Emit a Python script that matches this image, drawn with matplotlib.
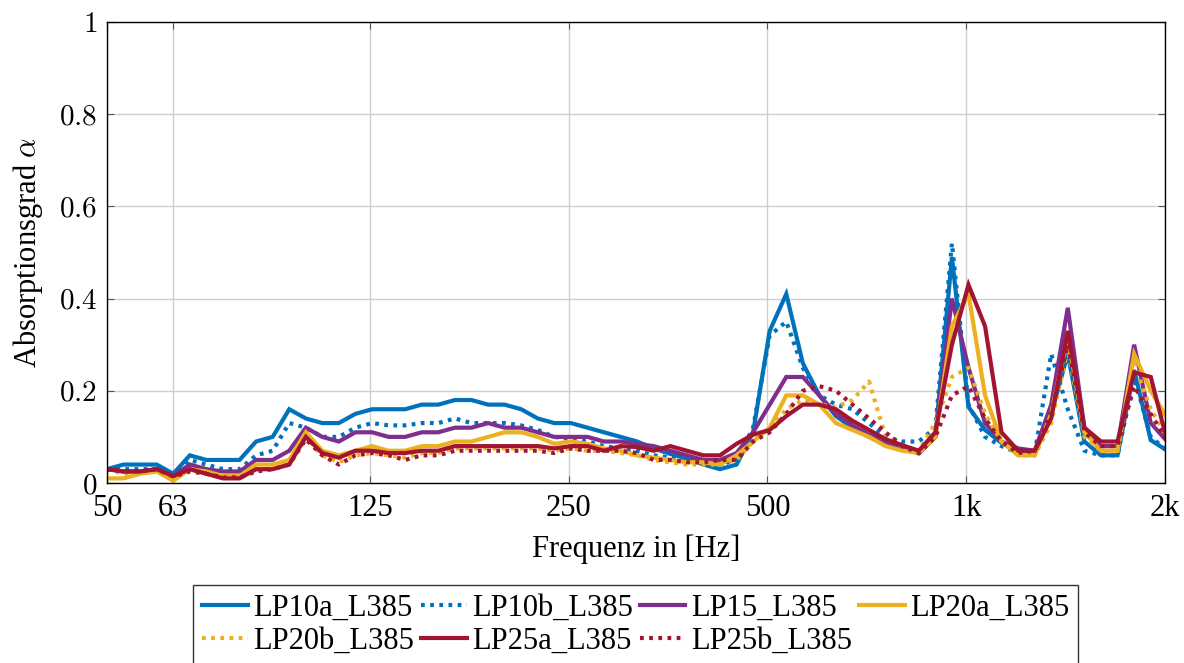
import matplotlib
matplotlib.use("Agg")
import matplotlib.pyplot as plt
from matplotlib.ticker import FixedLocator, NullLocator

# 1/12-octave frequencies (Hz)
freq = [50.0, 52.97, 56.12, 59.46, 63.0, 66.74, 70.71, 74.92, 79.37, 84.09, 89.09, 94.39,
        100.0, 105.9, 112.2, 118.9, 126.0, 133.5, 141.4, 149.8, 158.7, 168.2, 178.2, 188.8,
        200.0, 211.9, 224.5, 237.8, 252.0, 267.0, 282.8, 299.7, 317.5, 336.4, 356.4, 377.6,
        400.0, 423.8, 449.0, 475.7, 504.0, 534.0, 565.7, 599.3, 635.0, 672.7, 712.7, 755.1,
        800.0, 847.6, 898.0, 951.4, 1008, 1068, 1131, 1199, 1270, 1345, 1425, 1510,
        1600, 1695, 1796, 1903, 2016]

lp10a = [0.03, 0.04, 0.04, 0.04, 0.02, 0.06, 0.05, 0.05, 0.05, 0.09, 0.10, 0.16, 0.14, 0.13, 0.13, 0.15, 0.16, 0.16,
         0.16, 0.17, 0.17, 0.18, 0.18, 0.17, 0.17, 0.16, 0.14, 0.13, 0.13, 0.12, 0.11, 0.10, 0.09, 0.075, 0.063, 0.053, 0.04,
         0.03, 0.04, 0.11, 0.33, 0.41, 0.26, 0.19, 0.145, 0.12, 0.10, 0.085, 0.075, 0.07, 0.10, 0.49, 0.165, 0.115, 0.087,
         0.07, 0.07, 0.15, 0.28, 0.09, 0.06, 0.06, 0.245, 0.093, 0.07]
lp10b = [0.03, 0.03, 0.03, 0.03, 0.02, 0.05, 0.04, 0.03, 0.03, 0.06, 0.07, 0.13, 0.12, 0.10, 0.10, 0.12, 0.13, 0.125,
         0.125, 0.13, 0.13, 0.14, 0.13, 0.13, 0.13, 0.125, 0.115, 0.10, 0.095, 0.09, 0.08, 0.075, 0.07, 0.06, 0.055, 0.05, 0.045,
         0.04, 0.05, 0.12, 0.32, 0.35, 0.25, 0.19, 0.17, 0.16, 0.13, 0.10, 0.09, 0.09, 0.12, 0.52, 0.17, 0.10, 0.08,
         0.065, 0.065, 0.28, 0.16, 0.07, 0.06, 0.06, 0.23, 0.10, 0.07]
lp15 = [0.03, 0.025, 0.025, 0.03, 0.015, 0.04, 0.03, 0.025, 0.025, 0.05, 0.05, 0.07, 0.12, 0.10, 0.09, 0.11, 0.11, 0.10,
        0.10, 0.11, 0.11, 0.12, 0.12, 0.13, 0.12, 0.12, 0.11, 0.10, 0.10, 0.10, 0.09, 0.09, 0.085, 0.08, 0.07, 0.06, 0.05,
        0.05, 0.065, 0.11, 0.17, 0.23, 0.23, 0.19, 0.15, 0.125, 0.105, 0.09, 0.078, 0.064, 0.10, 0.40, 0.25, 0.13, 0.09,
        0.075, 0.07, 0.17, 0.38, 0.12, 0.08, 0.08, 0.30, 0.13, 0.09]
lp20a = [0.01, 0.01, 0.02, 0.025, 0.005, 0.03, 0.025, 0.015, 0.015, 0.04, 0.04, 0.05, 0.11, 0.07, 0.06, 0.07, 0.08, 0.07,
         0.07, 0.08, 0.08, 0.09, 0.09, 0.10, 0.11, 0.11, 0.10, 0.085, 0.09, 0.085, 0.075, 0.07, 0.06, 0.055, 0.05, 0.045, 0.045,
         0.04, 0.06, 0.09, 0.12, 0.19, 0.19, 0.17, 0.13, 0.115, 0.10, 0.08, 0.07, 0.065, 0.10, 0.34, 0.41, 0.19, 0.09,
         0.06, 0.06, 0.15, 0.32, 0.11, 0.07, 0.07, 0.28, 0.20, 0.14]
lp20b = [0.03, 0.02, 0.02, 0.03, 0.01, 0.03, 0.02, 0.015, 0.015, 0.03, 0.03, 0.045, 0.10, 0.06, 0.045, 0.06, 0.065, 0.06,
         0.055, 0.065, 0.065, 0.075, 0.075, 0.075, 0.075, 0.075, 0.075, 0.07, 0.075, 0.07, 0.07, 0.065, 0.06, 0.05, 0.045, 0.04, 0.04,
         0.04, 0.05, 0.09, 0.12, 0.16, 0.18, 0.17, 0.165, 0.18, 0.22, 0.10, 0.08, 0.07, 0.13, 0.23, 0.25, 0.15, 0.09,
         0.06, 0.06, 0.13, 0.29, 0.10, 0.07, 0.07, 0.26, 0.16, 0.10]
lp25a = [0.03, 0.025, 0.025, 0.03, 0.015, 0.03, 0.02, 0.01, 0.01, 0.03, 0.03, 0.04, 0.10, 0.065, 0.055, 0.07, 0.07, 0.065,
         0.065, 0.07, 0.07, 0.08, 0.08, 0.08, 0.08, 0.08, 0.08, 0.075, 0.08, 0.08, 0.07, 0.08, 0.078, 0.07, 0.08, 0.07, 0.06,
         0.06, 0.085, 0.105, 0.115, 0.145, 0.17, 0.17, 0.16, 0.135, 0.115, 0.095, 0.082, 0.07, 0.11, 0.30, 0.43, 0.34, 0.11,
         0.07, 0.07, 0.14, 0.33, 0.12, 0.09, 0.09, 0.24, 0.23, 0.09]
lp25b = [0.03, 0.025, 0.025, 0.03, 0.014, 0.025, 0.02, 0.012, 0.012, 0.025, 0.03, 0.04, 0.095, 0.06, 0.04, 0.06, 0.065, 0.06,
         0.05, 0.06, 0.06, 0.07, 0.07, 0.07, 0.07, 0.07, 0.07, 0.065, 0.075, 0.07, 0.07, 0.07, 0.065, 0.05, 0.05, 0.045, 0.045,
         0.05, 0.05, 0.09, 0.11, 0.15, 0.20, 0.21, 0.20, 0.17, 0.14, 0.11, 0.08, 0.065, 0.10, 0.19, 0.21, 0.14, 0.09,
         0.065, 0.07, 0.15, 0.30, 0.11, 0.08, 0.08, 0.21, 0.15, 0.09]

labels = ["LP10a_L385", "LP10b_L385", "LP15_L385", "LP20a_L385",
          "LP20b_L385", "LP25a_L385", "LP25b_L385"]
xtick_vals = [50, 63, 125, 250, 500, 1000, 2000]
xtick_labels = ["50", "63", "125", "250", "500", "1k", "2k"]
ytick_vals = [0, 0.2, 0.4, 0.6, 0.8, 1]
ytick_labels = ["$0$", "$0.2$", "$0.4$", "$0.6$", "$0.8$", "$1$"]

c_blue, c_purple, c_yellow, c_red = "#0072BD", "#7E2F8E", "#EDB120", "#A2142F"

plt.rcParams["font.family"] = ["Liberation Serif", "DejaVu Serif"]
plt.rcParams["mathtext.fontset"] = "cm"

fig = plt.figure(figsize=(11.84, 6.63), dpi=100)
ax = fig.add_axes([107/1184, 1-483/663, (1165-107)/1184, (483-22)/663])

dot = (0, (0.9, 1.3))
series = [
    (lp10a, c_blue, "-"), (lp10b, c_blue, dot), (lp15, c_purple, "-"), (lp20a, c_yellow, "-"),
    (lp20b, c_yellow, dot), (lp25a, c_red, "-"), (lp25b, c_red, dot),
]
handles = []
for (vals, col, ls), lab in zip(series, labels):
    h, = ax.plot(freq, vals, color=col, linestyle=ls, linewidth=3.0, label=lab,
                 solid_joinstyle="miter", dash_capstyle="butt")
    handles.append(h)

ax.set_xscale("log")
ax.set_xlim(50, 2000)
ax.set_ylim(0, 1)
ax.xaxis.set_major_locator(FixedLocator(xtick_vals))
ax.xaxis.set_minor_locator(NullLocator())
ax.set_xticklabels(xtick_labels)
ax.set_yticks(ytick_vals)
ax.set_yticklabels(ytick_labels)
ax.grid(True, color="#cfcfcf", linewidth=1.0)
ax.set_axisbelow(True)
ax.tick_params(direction="in", length=5, width=0.8, color="#555555",
               top=True, right=True, pad=5)
ax.tick_params(axis="x", labelsize=22, pad=8)
ax.tick_params(axis="y", labelsize=21, pad=7)
for sp in ax.spines.values():
    sp.set_linewidth(1.0)
    sp.set_color("black")

ax.set_xlabel("Frequenz in [Hz]", fontsize=22, labelpad=8)
ax.set_ylabel(r"Absorptionsgrad $\alpha$", fontsize=22, labelpad=10)

order = [0, 4, 1, 5, 2, 6, 3]
leg = fig.legend([handles[i] for i in order], [labels[i] for i in order],
                 ncol=4, loc="upper center", bbox_to_anchor=(635.5/1184, 1-585/663),
                 frameon=True, fancybox=False, edgecolor="black", fontsize=22,
                 handlelength=1.5, handletextpad=0.18, columnspacing=0.22,
                 borderpad=0.3, labelspacing=0.12, borderaxespad=0)
leg.get_frame().set_linewidth(1.0)

fig.savefig("out.png", dpi=100)
